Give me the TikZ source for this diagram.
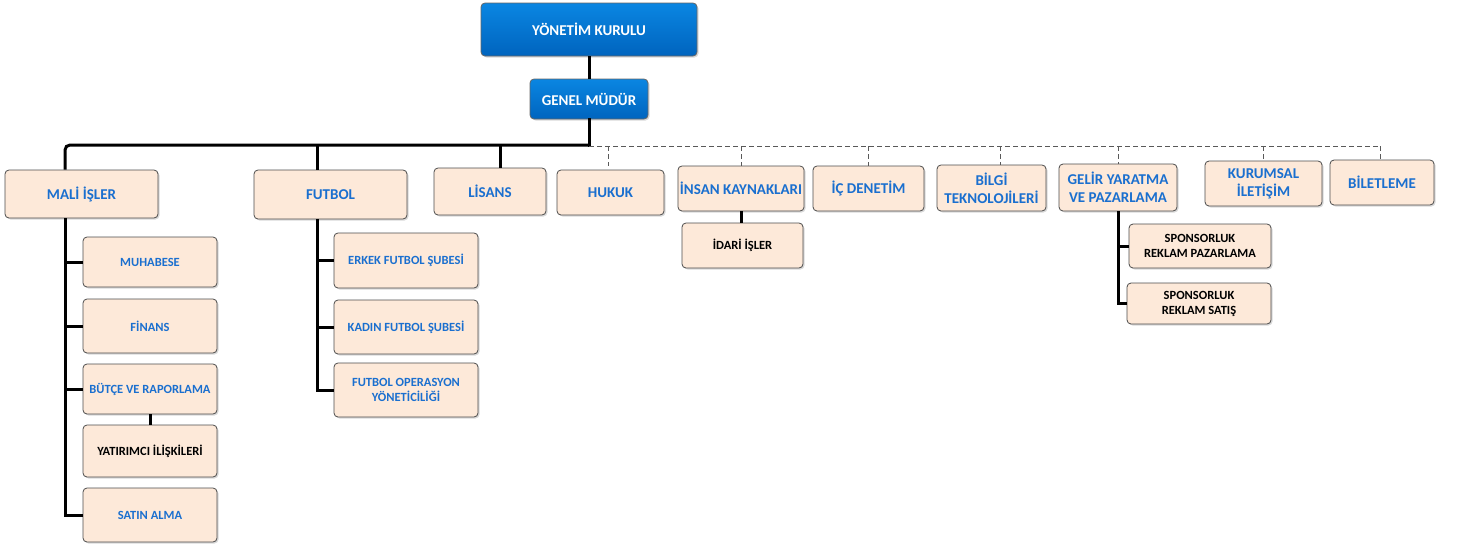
\documentclass[tikz,border=0pt]{standalone}
\usepackage{fontspec}
\setmainfont{Carlito}
\usetikzlibrary{shadows}
\definecolor{peach}{HTML}{FDE9D9}
\definecolor{unitblue}{HTML}{1A6FCF}
\definecolor{boardtop}{HTML}{0A86E2}
\definecolor{boardbot}{HTML}{0064BE}
\begin{document}
\begin{tikzpicture}[x=1pt, y=-1pt,
    unit/.style={draw=black!70, line width=0.8pt, rounded corners=4pt, fill=peach,
        text=unitblue, align=center, inner sep=2pt,
        font=\bfseries\fontsize{15}{18}\selectfont,
        drop shadow={shadow xshift=1.5pt, shadow yshift=-1.5pt, opacity=0.3}},
    subunit/.style={unit, font=\bfseries\fontsize{12.5}{15}\selectfont},
    board/.style={unit, draw=black!60, top color=boardtop, bottom color=boardbot, text=white},
    trunk/.style={line width=3pt},
    staff/.style={draw=black!65, line width=1pt, dash pattern=on 5pt off 3pt}]
    \useasboundingbox (0,0) rectangle (1457,546);

    %% top
    \node [board, minimum width=216pt, minimum height=53pt] (yk) at (589,29.5) {YÖNETİM KURULU};
    \node [board, minimum width=118pt, minimum height=40pt] (gm) at (589,99) {GENEL MÜDÜR};

    %% units
    \node [unit, minimum width=153pt, minimum height=48pt] (mali) at (81.5,194) {MALİ İŞLER};
    \node [unit, minimum width=153pt, minimum height=49pt] (futbol) at (330.5,194.5) {FUTBOL};
    \node [unit, minimum width=112pt, minimum height=47pt] (lisans) at (490,191.5) {LİSANS};
    \node [unit, minimum width=107pt, minimum height=45pt] (hukuk) at (610.5,192.5) {HUKUK};
    \node [unit, minimum width=126pt, minimum height=45pt] (ik) at (741,188.5) {İNSAN KAYNAKLARI};
    \node [unit, minimum width=111pt, minimum height=45pt] (icd) at (868.5,188.5) {İÇ DENETİM};
    \node [unit, minimum width=109pt, minimum height=46pt] (bilgi) at (991.5,188) {BİLGİ\\TEKNOLOJİLERİ};
    \node [unit, minimum width=118pt, minimum height=47pt] (gelir) at (1118,187.5) {GELİR YARATMA\\VE PAZARLAMA};
    \node [unit, minimum width=117pt, minimum height=45pt] (kurumsal) at (1263.5,183.5) {KURUMSAL\\İLETİŞİM};
    \node [unit, minimum width=104pt, minimum height=45pt] (bilet) at (1382,182.5) {BİLETLEME};

    %% mali isler
    \node [subunit, minimum width=134pt, minimum height=50pt] (muh) at (150,262) {MUHABESE};
    \node [subunit, minimum width=134pt, minimum height=54pt] (fin) at (150,326) {FİNANS};
    \node [subunit, minimum width=134pt, minimum height=50pt] (butce) at (150,389) {BÜTÇE VE RAPORLAMA};
    \node [subunit, minimum width=134pt, minimum height=52pt, text=black] (yat) at (150,451) {YATIRIMCI İLİŞKİLERİ};
    \node [subunit, minimum width=134pt, minimum height=54pt] (satin) at (150,515) {SATIN ALMA};

    %% futbol
    \node [subunit, minimum width=144pt, minimum height=55pt] (erkek) at (406,260.5) {ERKEK FUTBOL ŞUBESİ};
    \node [subunit, minimum width=144pt, minimum height=54pt] (kadin) at (406,327) {KADIN FUTBOL ŞUBESİ};
    \node [subunit, minimum width=144pt, minimum height=54pt] (fop) at (406,390) {FUTBOL OPERASYON\\YÖNETİCİLİĞİ};

    %% others
    \node [subunit, minimum width=121pt, minimum height=45pt, text=black] (idari) at (742.5,245.5) {İDARİ İŞLER};
    \node [subunit, minimum width=142pt, minimum height=44pt, text=black] (spaz) at (1200,246) {SPONSORLUK\\REKLAM PAZARLAMA};
    \node [subunit, minimum width=144pt, minimum height=41pt, text=black] (ssat) at (1199,303.5) {SPONSORLUK\\REKLAM SATIŞ};

    %% bus
    \coordinate (jmali) at (65,145);
    \coordinate (jfut) at (317,145);
    \coordinate (jlis) at (500,145);
    \coordinate (jcorner) at (589,145);
    \coordinate (jgm) at (589,146);
    \coordinate (jend) at (1380,146);

    \draw [trunk] (yk) -- (gm);
    \draw [trunk, line cap=rect] (gm.south) -- (jcorner);
    \draw [trunk, rounded corners=5pt] (jmali |- mali.north) |- (jcorner);
    \draw [trunk] (jfut) -- (jfut |- futbol.north);
    \draw [trunk] (jlis) -- (jlis |- lisans.north);

    %% dashed links
    \draw [staff] (jgm) -- (jend);
    \foreach \x/\n/\g in {608/hukuk/4, 741/ik/0, 868/icd/0, 1000/bilgi/0, 1118/gelir/0, 1263/kurumsal/0, 1380/bilet/0}
    {
        \coordinate (d\n) at (\x,146);
        \draw [staff, shorten >=\g pt] (d\n) -- (d\n |- \n.north);
    }

    %% sub links
    \draw [trunk] (jmali |- mali.south) |- (satin.west);
    \foreach \n in {muh, fin, butce}
        \draw [trunk] (jmali |- \n.west) -- (\n.west);
    \draw [trunk] (butce) -- (yat);

    \draw [trunk] (jfut |- futbol.south) |- (fop.west);
    \foreach \n in {erkek, kadin}
        \draw [trunk] (jfut |- \n.west) -- (\n.west);

    \draw [trunk] (ik) -- (ik |- idari.north);
    \draw [trunk] (gelir.south) |- (ssat.west);
    \draw [trunk] (gelir.south |- spaz.west) -- (spaz.west);
\end{tikzpicture}
\end{document}
